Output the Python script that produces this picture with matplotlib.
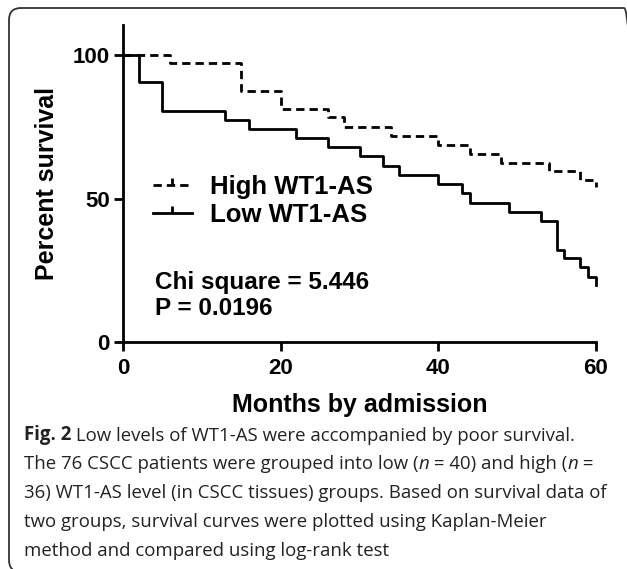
import numpy as np
import matplotlib
matplotlib.use('Agg')
import matplotlib.pyplot as plt
from matplotlib.lines import Line2D
from matplotlib.patches import FancyBboxPatch

# survival curves (months, percent)
high_t = [0, 6, 15, 20, 26, 28, 34, 40, 44, 48, 54, 58, 60]
high_s = [100, 97.1, 87.5, 81.2, 78.3, 75.0, 71.8, 68.6, 65.7, 62.5, 59.6, 56.4, 54.1]

low_t = [0, 2, 5, 13, 16, 22, 26, 30, 33, 35, 40, 43, 44, 49, 53, 55, 56, 58, 59, 60]
low_s = [100, 90.5, 80.6, 77.4, 74.1, 71.0, 67.8, 64.8, 61.3, 58.2, 55.1, 51.8,
         48.5, 45.4, 42.3, 32.1, 29.2, 26.2, 22.8, 19.9]

labels = ['High WT1-AS', 'Low WT1-AS']
stats = ['Chi square = 5.446', 'P = 0.0196']
xticks = [0, 20, 40, 60]
yticks = [0, 50, 100]

caption = [
    [('Fig. 2', 'b'), (' Low levels of WT1-AS were accompanied by poor survival.', 'r')],
    [('The 76 CSCC patients were grouped into low (', 'r'), ('n', 'i'),
     (' = 40) and high (', 'r'), ('n', 'i'), (' =', 'r')],
    [('36) WT1-AS level (in CSCC tissues) groups. Based on survival data of', 'r')],
    [('two groups, survival curves were plotted using Kaplan-Meier', 'r')],
    [('method and compared using log-rank test', 'r')],
]

W, H = 627, 569
plt.rcParams['font.family'] = ['Liberation Sans', 'DejaVu Sans']
fig = plt.figure(figsize=(W / 100, H / 100), dpi=100)

# rounded frame around the figure
frame = FancyBboxPatch((0.09, -0.03), 6.27, 5.64,
                       boxstyle='round,pad=0,rounding_size=0.12',
                       transform=fig.dpi_scale_trans, fill=False,
                       edgecolor='#333333', lw=1.3)
fig.patches.append(frame)

ax = fig.add_axes([123 / W, (H - 342) / H, (596 - 123) / W, (342 - 25) / H])
ax.set_xlim(0, 60)
ax.set_ylim(0, 110.5)

lw = 2.0
ax.step(high_t, high_s, where='post', color='black', lw=lw,
        dashes=(3, 1.8), clip_on=False)
ax.step(low_t, low_s, where='post', color='black', lw=lw, clip_on=False)

for side in ['top', 'right']:
    ax.spines[side].set_visible(False)
for side in ['left', 'bottom']:
    ax.spines[side].set_linewidth(2.0)

ax.set_xticks(xticks)
ax.set_yticks(yticks)
ax.tick_params(length=6.5, width=2.0, labelsize=16, pad=3)
ax.tick_params(axis='x', pad=5)
for lab in ax.get_xticklabels() + ax.get_yticklabels():
    lab.set_fontweight('bold')

ax.set_xlabel('Months by admission', fontsize=18, fontweight='bold', labelpad=10)
ax.set_ylabel('Percent survival', fontsize=18, fontweight='bold', labelpad=10)

handles = [
    Line2D([], [], color='black', lw=lw, dashes=(3, 1.8), marker=2,
           markersize=5, markeredgewidth=lw),
    Line2D([], [], color='black', lw=lw, marker=2, markersize=5,
           markeredgewidth=lw),
]
ax.legend(handles, labels, loc='center left', frameon=False,
          bbox_to_anchor=(153 / W, (H - 201) / H), bbox_transform=fig.transFigure,
          borderpad=0, borderaxespad=0, handlelength=1.5, handletextpad=0.7,
          labelspacing=0.15, numpoints=1, prop={'size': 18.5, 'weight': 'bold'})

fig.text(155 / W, (H - 289) / H, stats[0], fontsize=17.5, fontweight='bold',
         va='baseline', ha='left')
fig.text(155 / W, (H - 315) / H, stats[1], fontsize=17.5, fontweight='bold',
         va='baseline', ha='left')

# caption with mixed styles
cap_size = 13.4
for i, line in enumerate(caption):
    y = (H - 440 - i * 29) / H
    prev = None
    for txt, st in line:
        kw = dict(fontsize=cap_size, family=['Open Sans', 'DejaVu Sans'],
                  color='#222222', ha='left', annotation_clip=False)
        if st == 'b':
            kw['fontweight'] = 'bold'
        if st == 'i':
            kw['fontstyle'] = 'italic'
        if prev is None:
            prev = ax.annotate(txt, xy=(24 / W, y), xycoords='figure fraction',
                               va='baseline', **kw)
        else:
            prev = ax.annotate(txt, xy=(1, 0), xycoords=prev, va='bottom', **kw)

fig.savefig('out.png', dpi=100)
